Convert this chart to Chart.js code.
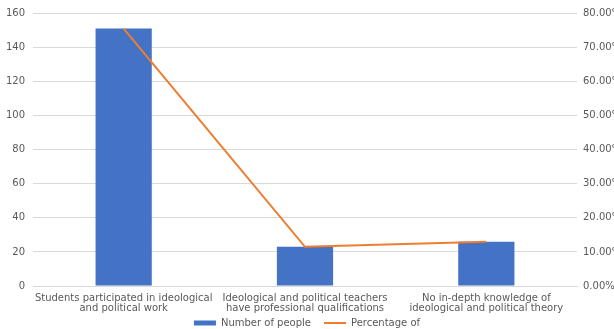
<!DOCTYPE html>
<html>
<head>
<meta charset="utf-8">
<script src="https://cdn.jsdelivr.net/npm/chart.js@4"></script>
<style>
  html, body { margin: 0; padding: 0; background: #fff; }
  #wrap { width: 614px; height: 329px; }
</style>
</head>
<body>
<div id="wrap"><canvas id="grafico" width="614" height="329"></canvas></div>
<script>
const categorias = [
  ['Students participated in ideological', 'and political work'],
  ['Ideological and political teachers', 'have professional qualifications'],
  ['No in-depth knowledge of', 'ideological and political theory']
];
const pessoas = [151, 23, 26];
const percentual = [75.5, 11.5, 13.0];

const cinza = '#595959';
const fonte = { family: 'DejaVu Sans, sans-serif', size: 10, lineHeight: 1.05 };

// o eixo x recorta os rótulos na sua caixa; alarga a caixa para a 2a linha aparecer
const soltarRotulos = {
  id: 'soltarRotulos',
  afterLayout(chart) {
    chart.scales.x.bottom += 14;
  }
};

const ctx = document.getElementById('grafico').getContext('2d');
new Chart(ctx, {
  type: 'bar',
  data: {
    labels: categorias,
    datasets: [
      {
        type: 'line',
        label: 'Percentage of',
        data: percentual,
        yAxisID: 'y2',
        borderColor: '#ED7D31',
        backgroundColor: '#ED7D31',
        borderWidth: 2,
        pointRadius: 0,
        pointStyle: 'line',
        tension: 0,
        order: 0
      },
      {
        label: 'Number of people',
        data: pessoas,
        yAxisID: 'y',
        backgroundColor: '#4472C4',
        pointStyle: 'rect',
        barPercentage: 0.31,
        categoryPercentage: 1,
        order: 1
      }
    ]
  },
  options: {
    responsive: false,
    animation: false,
    layout: { padding: { top: 5, bottom: 0, left: 0, right: 0 } },
    plugins: {
      legend: {
        position: 'bottom',
        reverse: true,
        maxHeight: 24,
        labels: {
          usePointStyle: true,
          pointStyleWidth: 22,
          boxHeight: 5,
          padding: 13,
          color: cinza,
          font: fonte
        }
      },
      tooltip: { enabled: false }
    },
    scales: {
      x: {
        grid: { display: false, drawTicks: false },
        border: { color: '#d9d9d9' },
        ticks: { color: cinza, font: fonte, maxRotation: 0, autoSkip: false, padding: 7 },
        afterFit: (s) => { s.height = 19; }
      },
      y: {
        position: 'left',
        min: 0,
        max: 160,
        ticks: { stepSize: 20, color: cinza, font: fonte, padding: 8 },
        grid: { color: '#d9d9d9', drawTicks: false },
        border: { display: false },
        afterFit: (s) => { s.width = 33; }
      },
      y2: {
        position: 'right',
        min: 0,
        max: 80,
        ticks: {
          stepSize: 10,
          color: cinza,
          font: fonte,
          padding: 6,
          callback: (v) => v.toFixed(2) + '%'
        },
        grid: { display: false, drawTicks: false },
        border: { display: false },
        afterFit: (s) => { s.width = 37; }
      }
    }
  },
  plugins: [soltarRotulos]
});
</script>
</body>
</html>
